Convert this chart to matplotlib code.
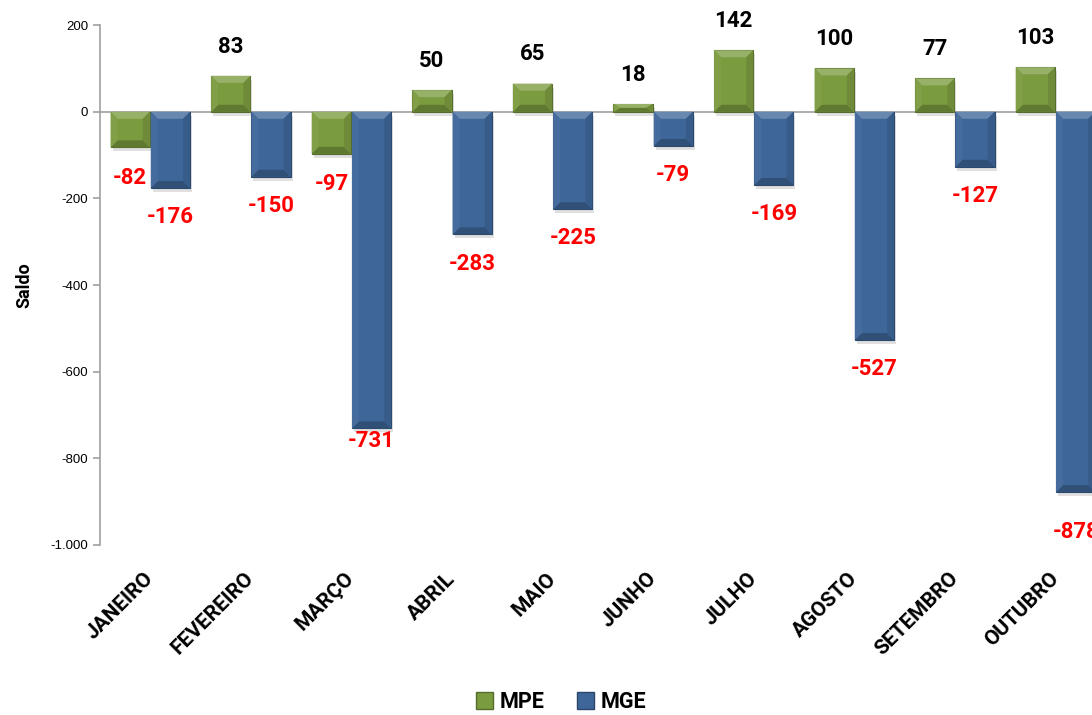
import matplotlib
matplotlib.use("Agg")
import matplotlib.pyplot as plt
from matplotlib.patches import Polygon, Patch
from matplotlib.ticker import FuncFormatter
import numpy as np

meses = ["JANEIRO", "FEVEREIRO", "MARÇO", "ABRIL", "MAIO", "JUNHO",
         "JULHO", "AGOSTO", "SETEMBRO", "OUTUBRO"]
mpe = [-82, 83, -97, 50, 65, 18, 142, 100, 77, 103]
mge = [-176, -150, -731, -283, -225, -79, -169, -527, -127, -878]
series_names = ["MPE", "MGE"]

VERDE = "#7b9b3f"
AZUL = "#3e6699"
FONTE = "Roboto"


def shade(cor, f):
    c = np.array(matplotlib.colors.to_rgb(cor))
    if f > 0:
        c = c + (1 - c) * f
    else:
        c = c * (1 + f)
    return tuple(np.clip(c, 0, 1))


def bevel(ax, bars, cor, px_x, px_y):
    # fake the excel bevel with four trapezoids per bar
    for b in bars:
        x0 = b.get_x()
        x1 = x0 + b.get_width()
        y0 = b.get_y()
        y1 = y0 + b.get_height()
        lo, hi = min(y0, y1), max(y0, y1)
        bx = 7 / px_x
        by = min(7 / px_y, (hi - lo) / 2)
        bx = min(bx, (x1 - x0) / 2)
        faces = [
            ([(x0, hi), (x1, hi), (x1 - bx, hi - by), (x0 + bx, hi - by)], shade(cor, 0.22)),
            ([(x0, lo), (x1, lo), (x1 - bx, lo + by), (x0 + bx, lo + by)], shade(cor, -0.22)),
            ([(x0, lo), (x0, hi), (x0 + bx, hi - by), (x0 + bx, lo + by)], shade(cor, 0.04)),
            ([(x1, lo), (x1, hi), (x1 - bx, hi - by), (x1 - bx, lo + by)], shade(cor, -0.1)),
        ]
        for pts, c in faces:
            ax.add_patch(Polygon(pts, closed=True, facecolor=c, edgecolor="none", zorder=3))
        # soft shadow
        ax.add_patch(plt.Rectangle((x0 + 0.02, lo - 4 / px_y), x1 - x0, hi - lo,
                                   facecolor="#000000", alpha=0.12, edgecolor="none", zorder=1.5))


fig = plt.figure(figsize=(10.92, 7.15), dpi=100)
ax = fig.add_axes([0.0916, 0.2378, 0.921, 0.727])

x = np.arange(len(meses))
w = 0.39
b1 = ax.bar(x - 0.2, mpe, w, color=VERDE, edgecolor=shade(VERDE, -0.3), linewidth=0.8, zorder=2)
b2 = ax.bar(x + 0.2, mge, w, color=AZUL, edgecolor=shade(AZUL, -0.3), linewidth=0.8, zorder=2)

ax.set_xlim(-0.5, len(meses) - 0.5)
ax.set_ylim(-1000, 200)
ax.set_yticks(range(-1000, 201, 200))
ax.yaxis.set_major_formatter(FuncFormatter(lambda v, p: f"{int(v):,}".replace(",", ".")))

p0 = ax.transData.transform((0, 0))
px_x = ax.transData.transform((1, 0))[0] - p0[0]
px_y = ax.transData.transform((0, 1))[1] - p0[1]
bevel(ax, b1, VERDE, px_x, px_y)
bevel(ax, b2, AZUL, px_x, px_y)

lab_font = dict(family=FONTE, fontweight="bold", fontsize=16)
for xi, v in zip(x - 0.2, mpe):
    if v >= 0:
        ax.annotate(str(v), (xi, v), xytext=(0, 21), textcoords="offset points",
                    ha="center", va="center", color="black", **lab_font)
    else:
        ax.annotate(str(v), (xi, v), xytext=(0, -22), textcoords="offset points",
                    ha="center", va="center", color="#ff0000", **lab_font)
extra = {-731: 12, -878: -8}
for xi, v in zip(x + 0.2, mge):
    off = -21 + extra.get(v, 0)
    ax.annotate(str(v), (xi, v), xytext=(0, off), textcoords="offset points",
                ha="center", va="center", color="#ff0000", annotation_clip=False, **lab_font)

ax.axhline(0, color="#a0a0a0", linewidth=1.2, zorder=1)
for s in ["top", "right", "bottom"]:
    ax.spines[s].set_visible(False)
ax.spines["left"].set_color("#a0a0a0")
ax.spines["left"].set_linewidth(1.2)
ax.tick_params(axis="y", colors="#a0a0a0", length=5, width=1.2, labelcolor="black",
               labelsize=9.5)
for t in ax.get_yticklabels():
    t.set_family("Liberation Sans")

ax.set_xticks(x)
ax.set_xticklabels(meses, rotation=45, ha="right", va="center", rotation_mode="anchor",
                   family=FONTE, fontweight="bold", fontsize=15)
ax.tick_params(axis="x", length=0, pad=22)

ax.set_ylabel("Saldo", family=FONTE, fontweight="bold", fontsize=13, labelpad=12)

handles = [Patch(facecolor=VERDE, edgecolor=shade(VERDE, -0.3)),
           Patch(facecolor=AZUL, edgecolor=shade(AZUL, -0.3))]
fig.legend(handles, series_names, loc="lower center", bbox_to_anchor=(0.514, -0.024),
           ncol=2, frameon=False, handlelength=0.8, handleheight=0.8, handletextpad=0.3,
           columnspacing=1.5, prop=dict(family=FONTE, weight="bold", size=15.5))

fig.savefig("out.png", dpi=100)
